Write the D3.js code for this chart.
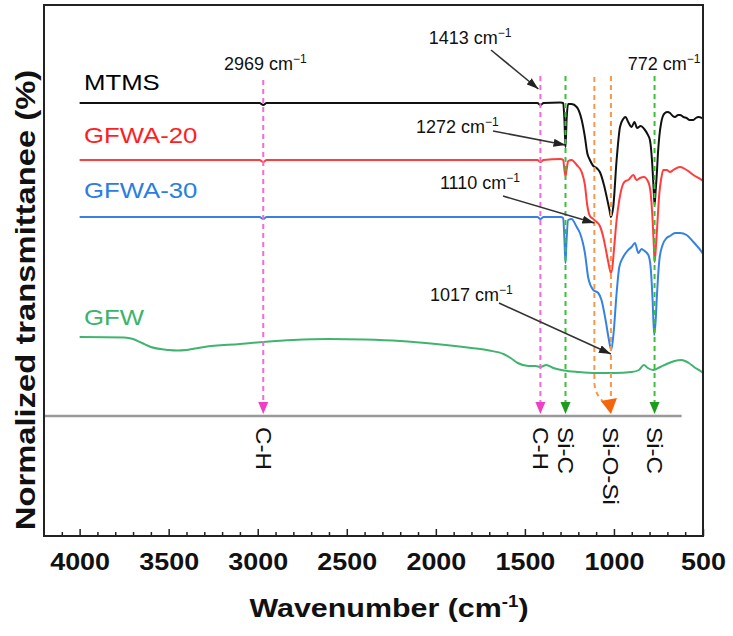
<!DOCTYPE html>
<html>
<head>
<meta charset="utf-8">
<script src="https://cdn.jsdelivr.net/npm/d3@7"></script>
<style>
  body { margin: 0; background: #fff; }
  svg { font-family: "Liberation Sans", Arial, sans-serif; }
</style>
</head>
<body>
<div id="chart"></div>
<script>
// FTIR spectra, wavenumber (cm-1) vs offset transmittance (a.u.)
var seriesNames = ["MTMS", "GFWA-20", "GFWA-30", "GFW"];
var seriesColors = ["#111111", "#ff3d3d", "#3582e4", "#40b46e"];
var labelColors = ["#000000", "#ff1e1e", "#2a7de1", "#3cb36b"];

var mtms = [[4000,433],[2990,433],[2969,431],[2950,433],[1430,433],[1413,431],[1395,433],[1300,433.5],[1285,433],
  [1278,416],[1272,389],[1266,416],[1257,432],[1238,432],[1209,429],[1181,416],[1163,399],[1150,383],[1135,376],
  [1116,370],[1097,368],[1079,364],[1056,351],[1037,336],[1025,326],[1017,319],[1004,329],[985,376],[966,409],
  [948,417],[935,419],[920,414],[901,409],[885,414],[870,408],[850,410],[830,407],[812,402],[798,396],[785,372],
  [778,350],[772,331],[766,345],[760,360],[752,385],[745,400],[735,413],[727,419],[713,423],[700,424],[685,423],
  [670,420],[657,419],[640,421],[629,421],[610,419],[592,418],[575,416],[554,416],[540,418],[526,419],[507,418],[500,417]];

var gfwa20 = [[4000,376],[2990,376],[2969,374],[2950,376],[1430,376],[1413,374],[1395,376],[1300,377],[1285,376],
  [1278,366],[1272,360],[1266,366],[1257,375],[1238,376],[1209,371],[1181,364],[1163,351],[1150,331],[1135,320],
  [1116,317],[1097,314],[1079,310],[1060,299],[1045,286],[1032,274],[1017,263],[1008,270],[1000,286],[985,316],
  [970,336],[951,351],[935,355],[920,356],[891,361],[873,356],[854,358],[832,359],[807,354],[794,343],[783,316],
  [776,290],[772,274],[766,285],[760,301],[745,343],[735,357],[723,366],[704,366],[685,364],[667,366],[629,369],
  [592,366],[554,361],[507,356],[500,355]];

var gfwa30 = [[4000,319],[2990,319],[2969,317],[2950,319],[1430,319],[1413,317],[1395,319],[1300,319],[1285,318],
  [1278,296],[1272,273],[1266,296],[1257,316],[1238,317],[1209,309],[1191,303],[1163,283],[1144,258],[1116,246],
  [1088,243],[1070,236],[1047,216],[1028,196],[1015,186],[1002,203],[985,243],[970,269],[948,279],[920,286],
  [901,289],[882,293],[863,283],[845,287],[835,286],[807,281],[794,269],[783,236],[774,201],[766,215],[760,236],
  [745,276],[727,291],[704,298],[685,300],[657,303],[629,303],[592,301],[554,294],[507,284],[500,282]];

var gfw = [[4000,199],[3750,198.5],[3700,197],[3650,193],[3600,189],[3500,186],[3450,185.5],[3400,186],[3300,189],
  [3100,192],[2969,194],[2800,196],[2600,197],[2400,196.5],[2200,195],[2000,192],[1800,188],[1700,185.5],
  [1620,182],[1580,178],[1540,173],[1480,170],[1440,170],[1413,169],[1380,171],[1340,168],[1280,165.5],
  [1200,164],[1100,163],[1000,163],[900,164],[860,166],[832,171],[810,168],[779,166],[740,169],[704,172],
  [660,175],[620,176],[580,173],[550,169],[507,164],[500,163]];

var allSeries = [mtms, gfwa20, gfwa30, gfw];

var majorTicks = [4000, 3500, 3000, 2500, 2000, 1500, 1000, 500];
var minorTicks = [4100, 3900, 3800, 3700, 3600, 3400, 3300, 3200, 3100, 2900, 2800, 2700, 2600, 2400, 2300,
  2200, 2100, 1900, 1800, 1700, 1600, 1400, 1300, 1200, 1100, 900, 800, 700, 600];

// marked peaks
var peakWn = [2969, 1413, 1272, 1110, 1017, 772];
var peakColors = ["#f46bd6", "#f46bd6", "#3cc03c", "#f49a4a", "#f49a4a", "#3cc03c"];
var bondWn = [2969, 1413, 1272, 1017, 772];
var bondLabels = ["C-H", "C-H", "Si-C", "Si-O-Si", "Si-C"];
var bondColors = ["#ef3fc2", "#ef3fc2", "#1e9a1e", "#f5650a", "#1e9a1e"];

var W = 733, H = 636;
var stretch = 1.17;

var x = d3.scaleLinear().domain([4200, 500]).range([44, 703]);
var y = d3.scaleLinear().domain([0, 531]).range([536, 5]);

var svg = d3
  .select("#chart")
  .append("svg")
  .attr("width", W)
  .attr("height", H);

var defs = svg.append("defs");
defs
  .append("marker")
  .attr("id", "arrowBlack")
  .attr("viewBox", "0 0 12 8")
  .attr("refX", 12)
  .attr("refY", 4)
  .attr("markerWidth", 12)
  .attr("markerHeight", 8)
  .attr("markerUnits", "userSpaceOnUse")
  .attr("orient", "auto")
  .append("path")
  .attr("d", "M0,0 L12,4 L0,8 z")
  .attr("fill", "#222");

function wideText(g, str, px, py, opts) {
  var t = g
    .append("text")
    .attr("transform", "translate(" + px + "," + py + ") rotate(" + (opts.rotate || 0) + ") scale(" + (opts.sx || stretch) + ",1)")
    .attr("text-anchor", opts.anchor || "start")
    .style("font-size", opts.size + "px")
    .style("font-weight", opts.weight || "normal")
    .attr("fill", opts.color || "#000")
    .text(str);
  if (opts.baseline) t.attr("dominant-baseline", opts.baseline);
  return t;
}

// spectra
var line = d3
  .line()
  .x(function (d) { return x(d[0]); })
  .y(function (d) { return y(d[1]); })
  .curve(d3.curveMonotoneX);

svg
  .append("g")
  .selectAll("path.spec")
  .data(allSeries)
  .enter()
  .append("path")
  .attr("class", "spec")
  .attr("d", line)
  .attr("fill", "none")
  .attr("stroke", function (d, i) { return seriesColors[i]; })
  .attr("stroke-width", 2)
  .attr("stroke-linejoin", "round");

// dashed guide lines for the assigned bands (drawn over the spectra)
var guides = svg.append("g");
peakWn.forEach(function (w, i) {
  if (w == 1110) {
    var px = x(w), tx = x(1017);
    guides
      .append("path")
      .attr("d", "M" + px + ",77 L" + px + ",383 Q" + (px + 1) + ",396 " + (tx - 5) + ",404")
      .attr("fill", "none")
      .attr("stroke", peakColors[i])
      .attr("stroke-width", 2)
      .attr("stroke-dasharray", "5,4");
    return;
  }
  guides
    .append("line")
    .attr("x1", x(w))
    .attr("x2", x(w))
    .attr("y1", w == 2969 ? 80 : 76)
    .attr("y2", 403)
    .attr("stroke", peakColors[i])
    .attr("stroke-width", 2)
    .attr("stroke-dasharray", "5,4");
});

// series labels
var labelBase = [90, 143, 198, 325];
seriesNames.forEach(function (n, i) {
  wideText(svg, n, 84, labelBase[i], { size: 22, color: labelColors[i] });
});

// gray base line with arrowheads
svg
  .append("line")
  .attr("x1", 45)
  .attr("x2", x(620))
  .attr("y1", 416)
  .attr("y2", 416)
  .attr("stroke", "#999")
  .attr("stroke-width", 2.5);

bondWn.forEach(function (w, i) {
  var px = x(w);
  var pts = w == 1017
    ? [[px - 10, 401], [px + 6, 398], [px, 414]]
    : [[px - 5, 402], [px + 5, 402], [px, 414]];
  svg
    .append("path")
    .attr("d", "M" + pts.map(function (p) { return p.join(","); }).join(" L") + " Z")
    .attr("fill", bondColors[i]);
  wideText(svg, bondLabels[i], px, 427, { size: 22, rotate: 90, sx: 1.1, baseline: "central", color: "#111" });
});

// wavenumber annotations
function peakNote(str, px, py, anchor) {
  var t = svg
    .append("text")
    .attr("x", px)
    .attr("y", py)
    .attr("text-anchor", anchor)
    .style("font-size", "18px")
    .attr("fill", "#111");
  t.append("tspan").text(str + " cm");
  t.append("tspan").attr("dy", -7).style("font-size", "12px").text("\u22121");
}
peakNote("2969", x(2969) + 2, 70, "middle");
peakNote("1413", 470, 44, "middle");
peakNote("772", 664, 70, "middle");
peakNote("1272", 416, 133, "start");
peakNote("1110", 520, 189, "end");
peakNote("1017", 430, 301, "start");

var arrows = [
  [491, 50, x(1413) - 2, 89],
  [493, 131, x(1272), y(389) - 2],
  [503, 196, x(1110), 223],
  [499, 303, x(1017), y(186) + 4]
];
svg
  .append("g")
  .selectAll("line")
  .data(arrows)
  .enter()
  .append("line")
  .attr("x1", function (d) { return d[0]; })
  .attr("y1", function (d) { return d[1]; })
  .attr("x2", function (d) { return d[2]; })
  .attr("y2", function (d) { return d[3]; })
  .attr("stroke", "#333")
  .attr("stroke-width", 1.6)
  .attr("marker-end", "url(#arrowBlack)");

// frame
svg
  .append("rect")
  .attr("x", 44)
  .attr("y", 5)
  .attr("width", 703 - 44)
  .attr("height", 536 - 5)
  .attr("fill", "none")
  .attr("stroke", "#222")
  .attr("stroke-width", 2);

// bottom axis, ticks pointing inward
var axisG = svg.append("g").attr("transform", "translate(0,536)");
axisG
  .append("g")
  .call(d3.axisBottom(x).tickValues(minorTicks).tickSizeInner(-4).tickSizeOuter(0).tickFormat(""))
  .call(function (g) { g.select(".domain").remove(); })
  .selectAll("line")
  .attr("stroke", "#222")
  .attr("stroke-width", 1.5);

var major = axisG
  .append("g")
  .call(d3.axisBottom(x).tickValues(majorTicks).tickSizeInner(-7).tickSizeOuter(0).tickPadding(18).tickFormat(d3.format("d")));
major.select(".domain").remove();
major.selectAll("line").attr("stroke", "#222").attr("stroke-width", 1.5);
major
  .selectAll("text")
  .attr("fill", "#111")
  .style("font-family", "'Liberation Sans', Arial, sans-serif")
  .style("font-size", "23px")
  .style("font-weight", "bold")
  .attr("transform", "scale(" + stretch + ",1)");

// axis titles
var xt = svg
  .append("text")
  .attr("transform", "translate(389,617) scale(" + stretch + ",1)")
  .attr("text-anchor", "middle")
  .style("font-size", "26px")
  .style("font-weight", "bold")
  .attr("fill", "#111");
xt.append("tspan").text("Wavenumber (cm");
xt.append("tspan").attr("dy", -10).style("font-size", "16px").text("-1");
xt.append("tspan").attr("dy", 10).text(")");

wideText(svg, "Normalized transmittanee (%)", 35, 300, { size: 28, rotate: -90, anchor: "middle", weight: "bold", color: "#111" });
</script>
</body>
</html>
